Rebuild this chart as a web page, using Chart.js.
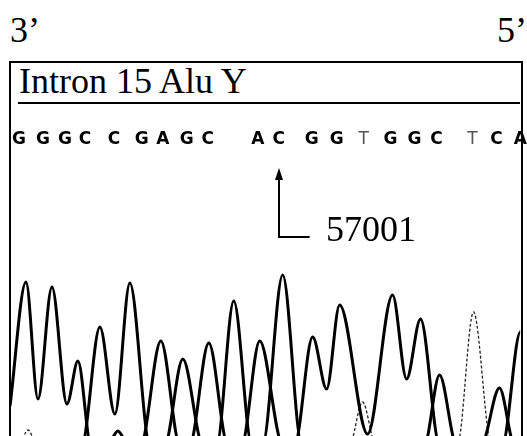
<!DOCTYPE html>
<html>
<head>
<meta charset="utf-8">
<script src="https://cdn.jsdelivr.net/npm/chart.js@4.4.1/dist/chart.umd.min.js"></script>
<style>
  body { margin: 0; background: #fff; }
  #wrap { position: relative; width: 527px; height: 436px; overflow: hidden; background: #fff; }
  #wrap canvas { position: absolute; left: 0; top: 0; }
  .serif { position: absolute; font-family: "Liberation Serif", serif; font-size: 36px; line-height: 36px; color: #000; white-space: nowrap; }
  #box { position: absolute; left: 9px; top: 61px; width: 514px; height: 400px; border: 2px solid #000; border-bottom: none; box-sizing: border-box; }
  #rule { position: absolute; left: 18px; top: 102px; width: 502px; height: 2px; background: #000; }
</style>
</head>
<body>
<div id="wrap">
  <div id="box"></div>
  <div class="serif" style="left:10px; top:12px;">3’</div>
  <div class="serif" style="right:0; top:12px;">5’</div>
  <div class="serif" style="left:19px; top:63px;">Intron 15 Alu Y</div>
  <div id="rule"></div>
  <canvas id="chart" width="527" height="436"></canvas>
  <div class="serif" style="left:326px; top:211px;">57001</div>
</div>
<script>
// base calls printed above the trace, and where they sit (scan position)
const baseCalls = ['G','G','G','C','C','G','A','G','C','A','C','G','G','T','G','G','C','T','C','A'];
const callPos = [19, 43, 65, 85, 114, 142, 163, 187, 208, 258, 279, 312, 337, 364, 391, 415, 437, 473, 497, 521];

// chromatogram traces: scan position / signal (peaks, valleys, baseline)
const scanG = [10, 26, 38, 52, 67, 78, 91, 141, 161, 180, 190, 209, 228, 295, 313, 327, 340, 368, 393, 407, 421, 440, 530];
const sigG  = [30, 154, 37, 149, 32, 75, -8, -8, 95, -8, -8, 93, -8, -8, 99, 47, 131, 2, 141, 57, 117, -8, -8];

const scanA = [0, 108, 118, 128, 165, 183, 203, 242, 260, 283, 503, 521, 535];
const sigA  = [-8, -8, 5, -8, -8, 77, -8, -8, 95, -8, -8, 104, 30];

const scanC = [0, 82, 100, 115, 130, 150, 217, 234, 252, 263, 283, 302, 425, 440, 457, 482, 500, 515, 530];
const sigC  = [-8, -8, 109, 22, 153, -8, -8, 135, -8, -8, 161, -8, -8, 61, -8, -8, 48, -8, -8];

const scanT = [0, 19, 28, 37, 350, 363, 376, 458, 474, 492, 530];
const sigT  = [-8, -8, 6, -8, -8, 34, -8, -8, 124, -8, -8];

// marked site
const markIndex = 10;

const toPoints = (xs, ys) => xs.map((x, i) => ({ x: x, y: ys[i] }));

function trace(label, xs, ys, width, dash, color) {
  return {
    label: label,
    data: toPoints(xs, ys),
    xAxisID: 'x',
    yAxisID: 'y',
    borderColor: color,
    borderWidth: width,
    borderDash: dash,
    borderJoinStyle: 'round',
    pointRadius: 0,
    fill: false,
    cubicInterpolationMode: 'monotone',
    clip: 0
  };
}

// arrow from the base call down and right toward the position label
const arrowPlugin = {
  id: 'siteArrow',
  afterDatasetsDraw(chart) {
    const { ctx, scales } = chart;
    const px = Math.round(scales.x.getPixelForValue(callPos[markIndex]));
    const tip = scales.y.getPixelForValue(268);
    const elbow = scales.y.getPixelForValue(199);
    const end = scales.x.getPixelForValue(310);
    ctx.save();
    ctx.strokeStyle = '#000';
    ctx.fillStyle = '#000';
    ctx.lineWidth = 2;
    ctx.beginPath();
    ctx.moveTo(px, tip + 8);
    ctx.lineTo(px, elbow);
    ctx.lineTo(end, elbow);
    ctx.stroke();
    ctx.beginPath();
    ctx.moveTo(px, tip);
    ctx.lineTo(px - 4, tip + 12);
    ctx.lineTo(px + 4, tip + 12);
    ctx.closePath();
    ctx.fill();
    ctx.restore();
  }
};

new Chart(document.getElementById('chart'), {
  type: 'line',
  data: {
    datasets: [
      trace('G', scanG, sigG, 3, [], '#000'),
      trace('A', scanA, sigA, 3, [], '#000'),
      trace('C', scanC, sigC, 3, [], '#000'),
      trace('T', scanT, sigT, 1.3, [3, 2], '#222')
    ]
  },
  options: {
    responsive: false,
    animation: false,
    devicePixelRatio: 1,
    layout: { padding: { left: 11, right: 6, top: 130, bottom: 0 } },
    elements: { line: { capBezierPoints: false } },
    plugins: { legend: { display: false }, tooltip: { enabled: false } },
    scales: {
      x: { type: 'linear', min: 11, max: 521, display: false },
      seq: {
        type: 'linear',
        position: 'top',
        min: 11,
        max: 521,
        grid: { display: false, drawTicks: false },
        border: { display: false },
        afterBuildTicks: (axis) => { axis.ticks = callPos.map(v => ({ value: v })); },
        afterFit: (axis) => { axis.height = 20; },
        ticks: {
          autoSkip: false,
          maxRotation: 0,
          padding: 0,
          callback: (v, i) => baseCalls[i],
          color: (c) => baseCalls[c.index] === 'T' ? '#555' : '#000',
          font: (c) => ({
            family: 'DejaVu Sans',
            size: 17,
            weight: baseCalls[c.index] === 'T' ? 'normal' : 'bold'
          })
        }
      },
      y: { type: 'linear', min: 0, max: 286, display: false }
    }
  },
  plugins: [arrowPlugin]
});
</script>
</body>
</html>
